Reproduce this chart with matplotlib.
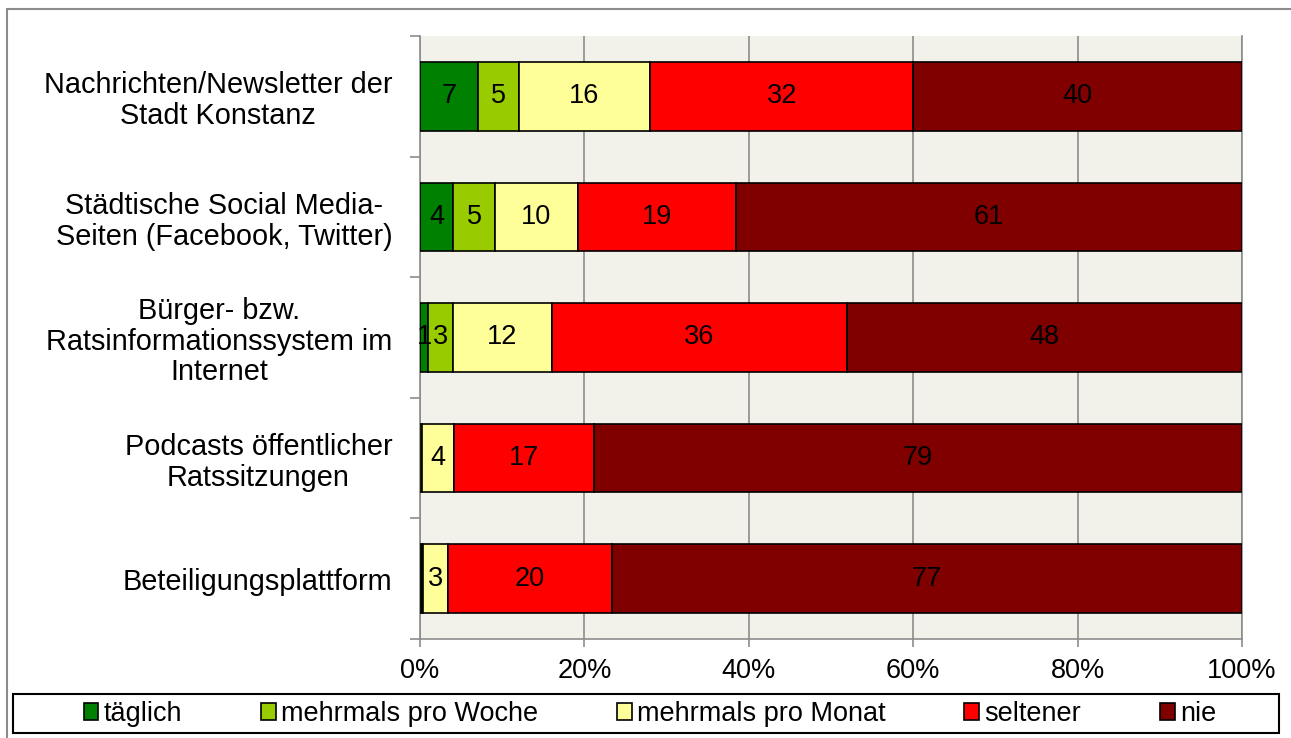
import matplotlib
matplotlib.use("Agg")
import matplotlib.pyplot as plt
from matplotlib.patches import Rectangle, Patch
from matplotlib.ticker import FixedLocator, PercentFormatter
import numpy as np

plt.rcParams['font.family'] = ['Liberation Sans', 'DejaVu Sans']

categories = [
    "Nachrichten/Newsletter der\nStadt Konstanz",
    "Städtische Social Media-\nSeiten (Facebook, Twitter)",
    "Bürger- bzw.\nRatsinformationssystem im\nInternet",
    "Podcasts öffentlicher\nRatssitzungen",
    "Beteiligungsplattform",
]
series = ["täglich", "mehrmals pro Woche", "mehrmals pro Monat", "seltener", "nie"]

taeglich = [7, 4, 1, 0, 0.2]
woche = [5, 5, 3, 0.2, 0.2]
monat = [16, 10, 12, 4, 3]
seltener = [32, 19, 36, 17, 20]
nie = [40, 61, 48, 79, 77]

colors = ["#008000", "#99CC00", "#FFFF99", "#FF0000", "#800000"]
FS = 19.5

data = np.array([taeglich, woche, monat, seltener, nie], dtype=float)
shares = data / data.sum(axis=0) * 100

fig = plt.figure(figsize=(12.91, 7.38), dpi=100)
W, H = 1291, 738
ax = fig.add_axes([420 / W, 1 - 639 / H, 822 / W, 603 / H])
ax.set_facecolor("#F2F2EB")

y = np.arange(len(categories))
left = np.zeros(len(categories))
for i, name in enumerate(series):
    vals = shares[i]
    bars = ax.barh(y, vals, left=left, height=0.57, color=colors[i],
                   edgecolor="black", linewidth=1.2, label=name, zorder=3)
    for b, raw, v, l in zip(bars, data[i], vals, left):
        if raw >= 1:
            ax.text(l + v / 2, b.get_y() + b.get_height() / 2, f"{raw:g}",
                    ha="center", va="center", fontsize=FS, color="black", zorder=4)
    left += vals

ax.set_xlim(0, 100)
ax.set_ylim(len(categories) - 0.5, -0.5)
ax.set_xticks(np.arange(0, 101, 20))
ax.xaxis.set_major_formatter(PercentFormatter(decimals=0))
ax.grid(axis="x", color="#8C8C8C", linewidth=1.2, zorder=1)
ax.set_axisbelow(True)

ax.set_yticks(y)
ax.set_yticklabels(categories, fontsize=20.8, multialignment="center", linespacing=1.12)
ax.yaxis.set_minor_locator(FixedLocator(np.arange(-0.5, len(categories), 1)))
ax.tick_params(axis="y", which="major", length=0, pad=20)
ax.tick_params(axis="y", which="minor", length=7, color="#8C8C8C", width=1.2)
ax.tick_params(axis="x", length=6, color="#8C8C8C", width=1.2, pad=8, labelsize=FS)

ax.spines["top"].set_visible(False)
for side in ["right", "left", "bottom"]:
    ax.spines[side].set_color("#8C8C8C")
    ax.spines[side].set_linewidth(1.2)

# outer chart frame (clipped at right and bottom)
fig.patches.append(Rectangle((7 / W, -0.05), 1.1, (729 / H) + 0.05,
                             transform=fig.transFigure, fill=False,
                             edgecolor="#8C8C8C", linewidth=1.5))
# legend frame
fig.patches.append(Rectangle((13 / W, 5 / H), 1266 / W, 39 / H,
                             transform=fig.transFigure, fill=False,
                             edgecolor="black", linewidth=1.5))

handles = [Patch(facecolor=c, edgecolor="black", linewidth=1.2) for c in colors]
fig.legend(handles, series, loc="center", bbox_to_anchor=(650 / W, 24 / H),
           ncol=5, frameon=False, fontsize=FS, handlelength=0.55,
           handleheight=0.55, handletextpad=0.2, columnspacing=2.9,
           borderpad=0, borderaxespad=0)

fig.savefig("out.png", dpi=100)
